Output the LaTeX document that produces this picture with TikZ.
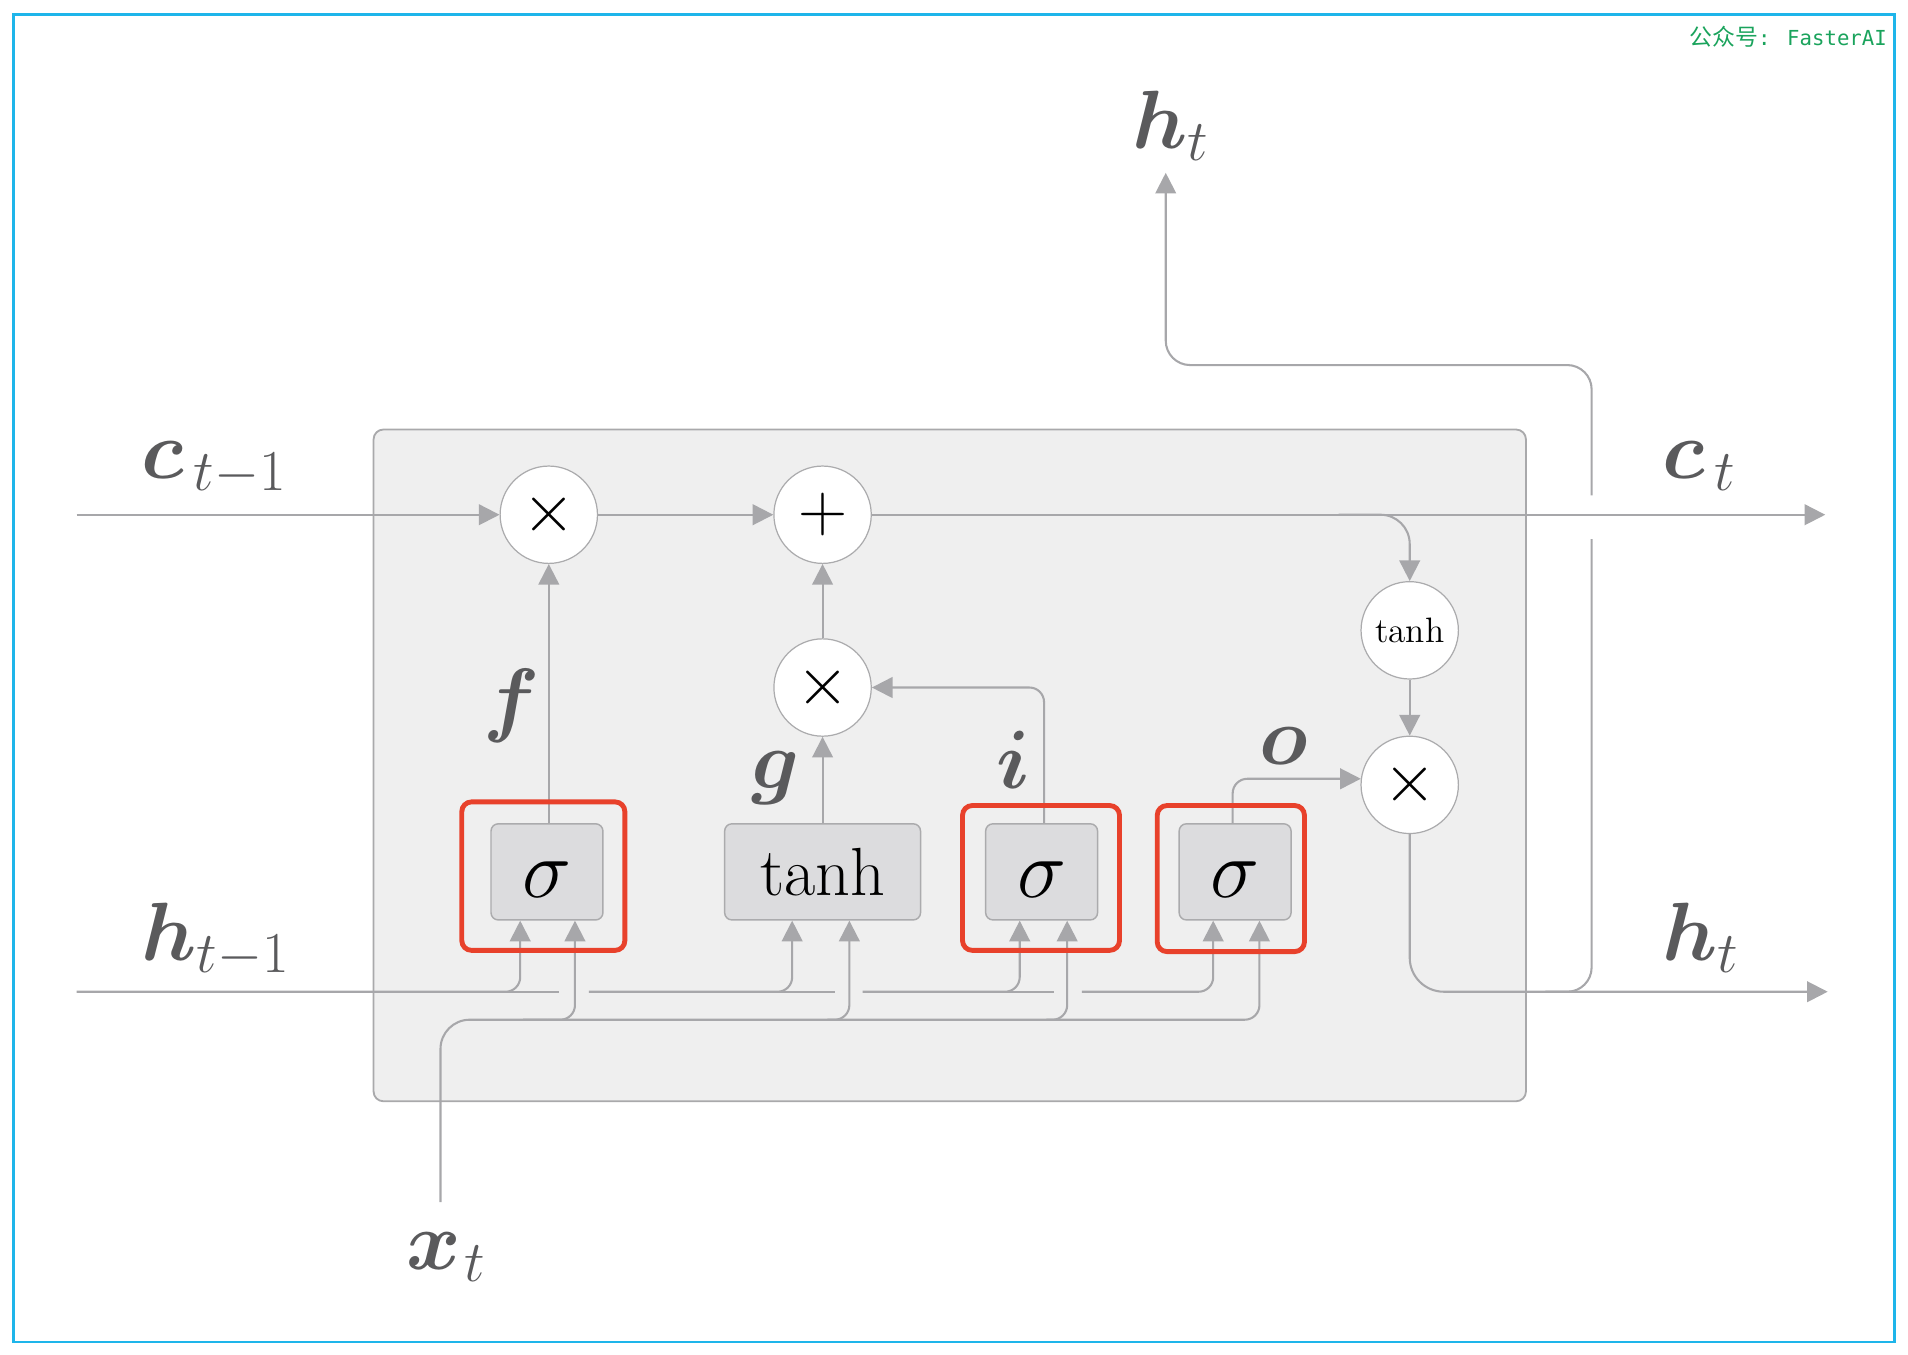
\RequirePackage{fix-cm}
\documentclass[tikz,border=0pt]{standalone}
\usepackage{bm}
\usepackage{fontspec}
\newfontfamily\cjkfont{Noto Sans CJK SC}
\newfontfamily\wmmono{DejaVu Sans Mono}
\usetikzlibrary{arrows.meta,calc}
\definecolor{lg}{HTML}{A7A7AA}
\definecolor{cellfill}{HTML}{EFEFEF}
\definecolor{celledge}{HTML}{A9A9AB}
\definecolor{gatefill}{HTML}{DCDCDE}
\definecolor{gateedge}{HTML}{ABABAD}
\definecolor{hlred}{HTML}{E8412B}
\definecolor{labgray}{HTML}{5A5A5C}
\definecolor{frameblue}{HTML}{1EB5EA}
\definecolor{wmgreen}{HTML}{1AA35C}
\tikzset{
  ln/.style={draw=lg, line width=0.85pt},
  arr/.style={ln, -{Triangle[length=8.5pt,width=8.5pt]}},
  op/.style={circle, draw=gateedge, line width=0.5pt, fill=white, minimum size=40pt, inner sep=0pt, text=black},
  gate/.style={rectangle, rounded corners=3pt, draw=gateedge, fill=gatefill, line width=0.6pt, minimum height=39.5pt, inner sep=0pt, text=black},
  sgate/.style={gate, minimum width=46pt, font=\fontsize{34}{36}\selectfont, text height=21pt, text depth=0pt},
  hlbox/.style={rectangle, draw=hlred, line width=2pt, rounded corners=4pt, inner sep=0pt},
  lab/.style={text=labgray, inner sep=0pt, font=\fontsize{34}{40}\selectfont},
  cellbox/.style={rectangle, draw=celledge, fill=cellfill, line width=0.75pt, rounded corners=4pt, inner sep=0pt}
}
\begin{document}
\begin{tikzpicture}[x=0.5pt,y=-0.5pt]
\useasboundingbox (0,0) rectangle (1568,1113);
\draw[draw=frameblue, line width=1pt] (11,12) rectangle (1557,1103);
\node[anchor=east, text=wmgreen, inner sep=0pt] (wm) at (1551,30) {{\cjkfont\fontsize{9.4}{10}\selectfont 公众号}{\wmmono\fontsize{8.5}{10}\selectfont : FasterAI}};

% cell
\node[cellbox, minimum width=473.5pt, minimum height=276pt] (cell) at (780.5,629) {};

% operators
\node[op, font=\fontsize{28}{30}\selectfont] (mulf) at (451,423) {$\times$};
\node[op, font=\fontsize{28}{30}\selectfont] (add) at (676,423) {$+$};
\node[op, font=\fontsize{28}{30}\selectfont] (mulg) at (676,565) {$\times$};
\node[op, font=\fontsize{14.5}{16}\selectfont] (tanhc) at (1158.5,518) {$\tanh$};
\node[op, font=\fontsize{28}{30}\selectfont] (mulo) at (1158.5,645) {$\times$};

% gates
\node[sgate] (sf) at (449.5,716.5) {$\sigma$};
\node[gate, minimum width=80.5pt, font=\fontsize{28}{32}\selectfont] (tg) at (676,716.5) {$\tanh$};
\node[sgate] (si) at (856,716.5) {$\sigma$};
\node[sgate] (so) at (1015,716.5) {$\sigma$};

% gate inputs
\coordinate (sfL) at ($(sf.south)+(-22,0)$);
\coordinate (sfR) at ($(sf.south)+(23,0)$);
\coordinate (tgL) at ($(tg.south)+(-25,0)$);
\coordinate (tgR) at ($(tg.south)+(22,0)$);
\coordinate (siL) at ($(si.south)+(-18,0)$);
\coordinate (siR) at ($(si.south)+(21,0)$);
\coordinate (soL) at ($(so.south)+(-18,0)$);
\coordinate (soR) at ($(so.south)+(20,0)$);

% cell state line
\coordinate (cin) at (63,423);
\coordinate (cout) at (1500,423);
\coordinate (cbr) at (1100,423);
\draw[arr] (cin) -- (mulf.west);
\draw[arr] (mulf.east) -- (add.west);
\draw[arr] (add.east) -- (cout);
\draw[arr, rounded corners=12pt] (cbr) -| (tanhc.north);
\draw[arr] (tanhc.south) -- (mulo.north);

% hidden output
\coordinate (hout) at (1502,815);
\coordinate (hj) at (1270,815);
\coordinate (vlo) at (1308,443);
\coordinate (vhi) at (1308,407);
\coordinate (vtop) at (958,300);
\coordinate (htip) at (958,142);
\draw[arr, rounded corners=14pt] (mulo.south) |- (hout);
\draw[ln, rounded corners=10pt] (hj) -| (vlo);
\draw[arr, rounded corners=10pt] (vhi) |- (vtop) -- (htip);

% gate outputs
\coordinate (moin) at ($(mulo.west)+(0.3,-5)$);
\draw[arr] (mulf.south |- sf.north) -- (mulf.south);
\draw[arr] (tg.north) -- (mulg.south);
\draw[arr] (mulg.north) -- (add.south);
\draw[arr, rounded corners=6pt] ($(si.north)+(2,0)$) |- (mulg.east);
\draw[arr, rounded corners=6pt] ($(so.north)+(-2,0)$) |- (moin);

% h_{t-1} feed
\coordinate (hin) at (63,815);
\coordinate (h1a) at (400,815);
\coordinate (h1b) at (459,815);
\coordinate (h2a) at (484,815);
\coordinate (h2b) at (620,815);
\coordinate (h2c) at (686,815);
\coordinate (h3a) at (709,815);
\coordinate (h3b) at (800,815);
\coordinate (h3c) at (866,815);
\coordinate (h4a) at (889,815);
\draw[arr, rounded corners=6pt] (hin) -| (sfL);
\draw[ln] (h1a) -- (h1b);
\draw[arr, rounded corners=6pt] (h2a) -| (tgL);
\draw[ln] (h2b) -- (h2c);
\draw[arr, rounded corners=6pt] (h3a) -| (siL);
\draw[ln] (h3b) -- (h3c);
\draw[arr, rounded corners=6pt] (h4a) -| (soL);

% x_t feed
\coordinate (xin) at (362,988);
\coordinate (x1) at (450,838);
\coordinate (x0) at (430,838);
\coordinate (x2) at (680,838);
\coordinate (x3) at (860,838);
\draw[ln, rounded corners=12pt] (xin) |- (x1);
\draw[arr, rounded corners=6pt] (x0) -| (sfR);
\draw[arr, rounded corners=6pt] (x1) -| (tgR);
\draw[arr, rounded corners=6pt] (x2) -| (siR);
\draw[arr, rounded corners=6pt] (x3) -| (soR);

% highlight boxes
\node[hlbox, minimum width=67pt, minimum height=61pt] (rf) at (446.5,720) {};
\node[hlbox, minimum width=64.5pt, minimum height=59.5pt] (ri) at (855.5,721.5) {};
\node[hlbox, minimum width=60.5pt, minimum height=60pt] (ro) at (1011.5,722) {};

% labels
\node[lab, anchor=base west] (lcin) at (116,393) {$\bm{c}_{\,t-1}$};
\node[lab, anchor=base west] (lcout) at (1366,393) {$\bm{c}_{\,t}$};
\node[lab, anchor=base west] (lhin) at (116,789) {$\bm{h}_{t-1}$};
\node[lab, anchor=base west] (lhout) at (1366,789) {$\bm{h}_{t}$};
\node[lab, anchor=base west] (lhtop) at (930,122) {$\bm{h}_{t}$};
\node[lab, anchor=base west] (lx) at (334,1043) {$\bm{x}_{\mkern1mu t}$};
\node[lab, anchor=base] (lf) at (420,597) {$\bm{f}$};
\node[lab, anchor=base] (lg) at (637,648) {$\bm{g}$};
\node[lab, anchor=base] (li) at (833,648) {$\bm{i}$};
\node[lab, anchor=base] (lo) at (1055,628) {$\bm{o}$};
\end{tikzpicture}
\end{document}
